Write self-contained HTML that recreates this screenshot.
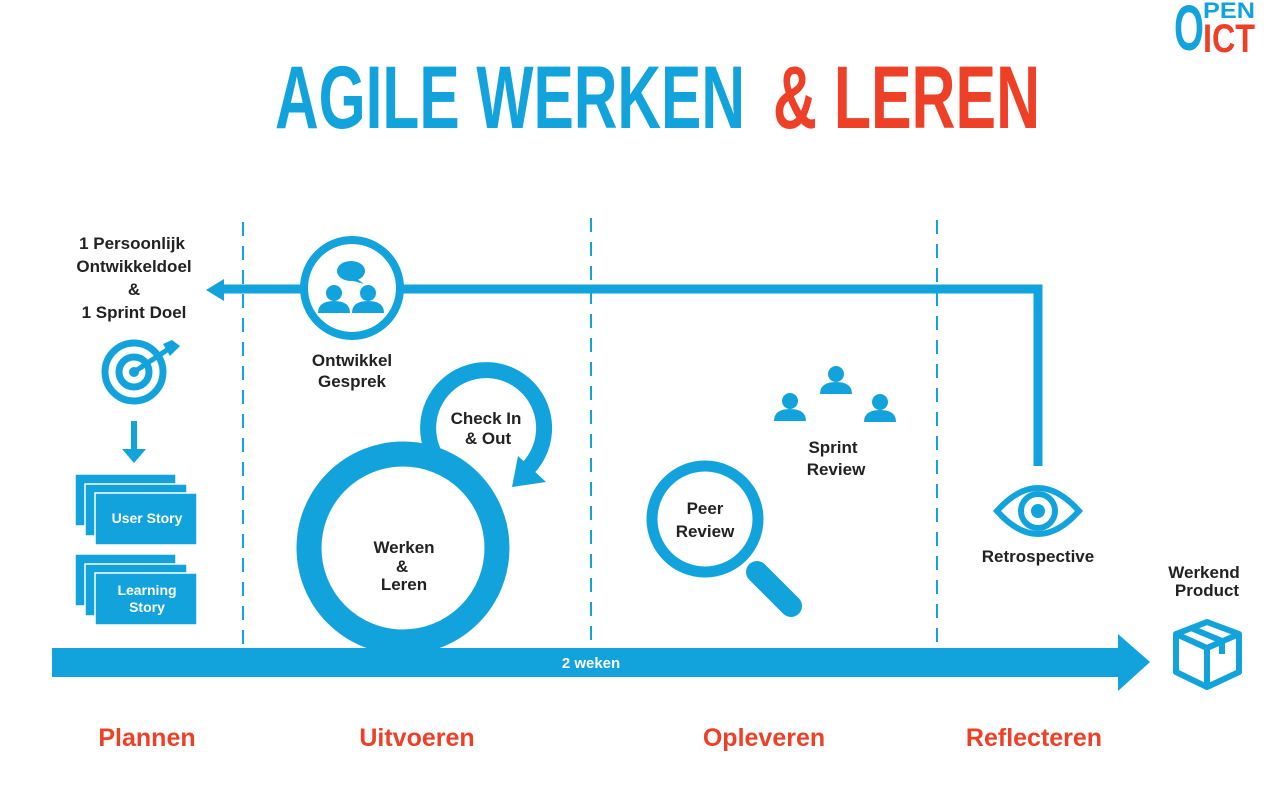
<!DOCTYPE html>
<html><head><meta charset="utf-8"><style>
html,body{margin:0;padding:0;background:#fff;width:1288px;height:787px;overflow:hidden}
svg text{font-family:"Liberation Sans",Arial,sans-serif;font-weight:bold}
</style></head><body>
<svg width="1288" height="787" viewBox="0 0 1288 787" xmlns="http://www.w3.org/2000/svg">
<defs>
<g id="person"><circle cx="0" cy="-10" r="8" fill="#12a3dc"/><path d="M-16 10 Q-16 -2 0 -2 Q16 -2 16 10 Z" fill="#12a3dc"/></g>
</defs>
<!-- logo -->
<text x="1174" y="50" font-size="64" fill="#12a3dc" textLength="30" lengthAdjust="spacingAndGlyphs">O</text>
<text x="1203" y="18" font-size="22" fill="#12a3dc" textLength="52" lengthAdjust="spacingAndGlyphs">PEN</text>
<text x="1203" y="52" font-size="40" fill="#ee4027" textLength="52" lengthAdjust="spacingAndGlyphs">ICT</text>
<!-- title -->
<text x="275" y="128" font-size="89" fill="#12a3dc" textLength="470" lengthAdjust="spacingAndGlyphs">AGILE WERKEN</text>
<text x="773" y="128" font-size="89" fill="#ee4027" textLength="267" lengthAdjust="spacingAndGlyphs">&amp; LEREN</text>
<!-- dashed lines -->
<g stroke="#12a3dc" stroke-width="2" stroke-dasharray="14,10">
<line x1="243" y1="222" x2="243" y2="645"/>
<line x1="591" y1="218" x2="591" y2="645"/>
<line x1="937" y1="220" x2="937" y2="645"/>
</g>
<!-- feedback loop -->
<polyline points="1038,466 1038,289 222,289" fill="none" stroke="#12a3dc" stroke-width="9"/>
<polygon points="206,290 224,279 224,301" fill="#12a3dc"/>
<circle cx="352" cy="288" r="48" fill="#fff" stroke="#12a3dc" stroke-width="8"/>
<ellipse cx="351" cy="271" rx="14" ry="10" fill="#12a3dc"/>
<polygon points="356,278 364,284 350,280" fill="#12a3dc"/>
<use href="#person" x="334" y="303"/>
<use href="#person" x="368" y="303"/>
<!-- left texts -->
<g font-size="17" fill="#222" text-anchor="middle">
<text x="132" y="249">1 Persoonlijk</text>
<text x="134" y="272">Ontwikkeldoel</text>
<text x="134" y="295">&amp;</text>
<text x="134" y="318">1 Sprint Doel</text>
<text x="352" y="366">Ontwikkel</text>
<text x="352" y="387">Gesprek</text>
</g>
<!-- target -->
<circle cx="134" cy="372" r="29" fill="none" stroke="#12a3dc" stroke-width="7"/>
<circle cx="134" cy="372" r="15" fill="none" stroke="#12a3dc" stroke-width="7"/>
<circle cx="134" cy="372" r="5" fill="#12a3dc"/>
<line x1="134" y1="372" x2="170" y2="348" stroke="#12a3dc" stroke-width="5"/>
<polygon points="163,344 172,340 180,346 170,356" fill="#12a3dc"/>
<!-- down arrow -->
<rect x="131" y="421" width="6" height="30" fill="#12a3dc"/>
<polygon points="122,449 146,449 134,463" fill="#12a3dc"/>
<!-- cards -->
<g fill="#12a3dc" stroke="#fff" stroke-width="1.5">
<rect x="75" y="474" width="101" height="52"/>
<rect x="85" y="484" width="102" height="52"/>
<rect x="95" y="493" width="102" height="52"/>
<rect x="75" y="554" width="101" height="52"/>
<rect x="85" y="564" width="102" height="52"/>
<rect x="95" y="573" width="102" height="52"/>
</g>
<g font-size="14" fill="#fff" text-anchor="middle">
<text x="147" y="523">User Story</text>
<text x="147" y="595">Learning</text>
<text x="147" y="612">Story</text>
</g>
<!-- big circle -->
<circle cx="403" cy="548" r="94" fill="none" stroke="#12a3dc" stroke-width="25"/>
<!-- check in arc -->
<path d="M445 469 A58 58 0 1 1 524 472" fill="none" stroke="#12a3dc" stroke-width="16"/>
<polygon points="512,487 518,456 546,482" fill="#12a3dc"/>
<g font-size="17" fill="#222" text-anchor="middle">
<text x="486" y="424">Check In</text>
<text x="488" y="444">&amp; Out</text>
<text x="404" y="553">Werken</text>
<text x="402" y="572">&amp;</text>
<text x="404" y="590">Leren</text>
</g>
<!-- magnifier -->
<circle cx="705" cy="519" r="53" fill="none" stroke="#12a3dc" stroke-width="11"/>
<line x1="757" y1="572" x2="791" y2="606" stroke="#12a3dc" stroke-width="22" stroke-linecap="round"/>
<g font-size="17" fill="#222" text-anchor="middle">
<text x="705" y="514">Peer</text>
<text x="705" y="537">Review</text>
<text x="833" y="453">Sprint</text>
<text x="836" y="475">Review</text>
<text x="1038" y="562">Retrospective</text>
<text x="1204" y="578">Werkend</text>
<text x="1207" y="596">Product</text>
</g>
<use href="#person" x="790" y="411"/>
<use href="#person" x="836" y="384"/>
<use href="#person" x="880" y="412"/>
<!-- eye -->
<path d="M997 511 Q1038 465 1079 511 Q1038 557 997 511 Z" fill="none" stroke="#12a3dc" stroke-width="6"/>
<circle cx="1038" cy="511" r="17" fill="none" stroke="#12a3dc" stroke-width="6"/>
<circle cx="1038" cy="511" r="7" fill="#12a3dc"/>
<!-- box -->
<g fill="none" stroke="#12a3dc" stroke-width="6" stroke-linejoin="round">
<path d="M1176 634 L1207 622 L1239 634 L1239 672 L1207 687 L1176 672 Z"/>
<path d="M1176 634 L1207 648 L1239 634 M1207 648 L1207 687"/>
<path d="M1191 628 L1222 641 L1222 654"/>
</g>
<!-- main arrow -->
<rect x="52" y="648" width="1072" height="29" fill="#12a3dc"/>
<polygon points="1118,634 1150,662 1118,691" fill="#12a3dc"/>
<text x="591" y="668" font-size="15" fill="#fff" text-anchor="middle">2 weken</text>
<!-- phase labels -->
<g font-size="25" fill="#ee4027" text-anchor="middle">
<text x="147" y="746">Plannen</text>
<text x="417" y="746">Uitvoeren</text>
<text x="764" y="746">Opleveren</text>
<text x="1034" y="746">Reflecteren</text>
</g>
</svg>
</body></html>
